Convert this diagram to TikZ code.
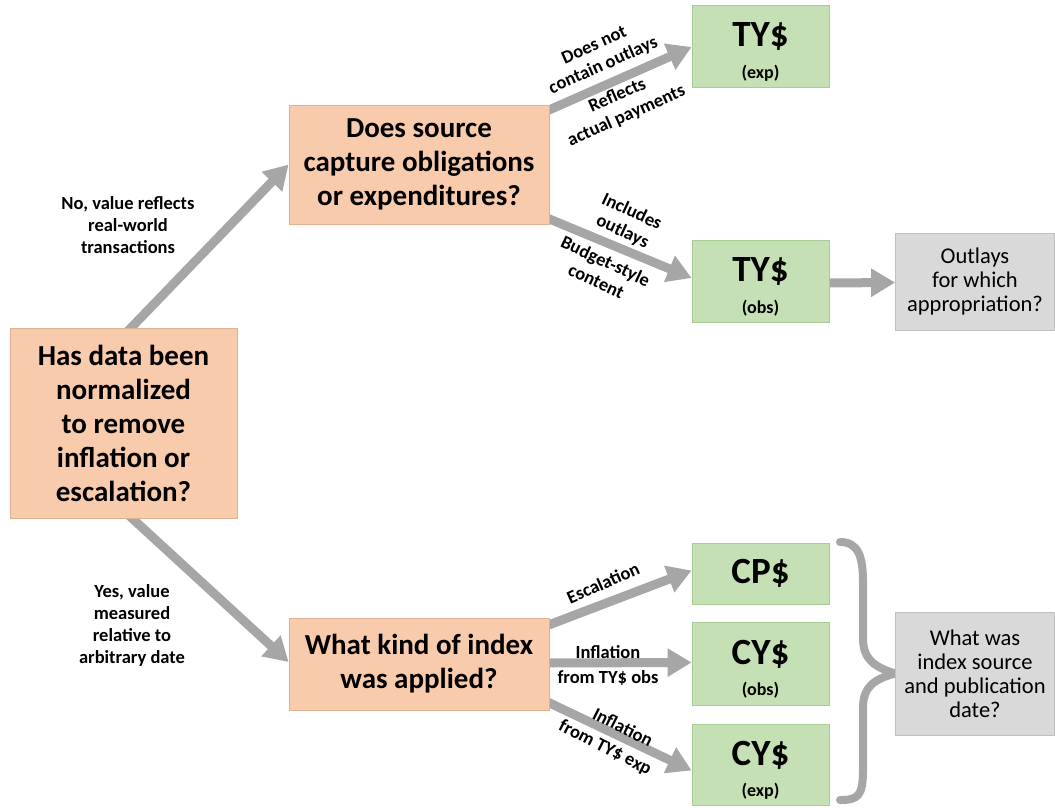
\documentclass[tikz,border=0pt]{standalone}
\usepackage{fontspec}
\setmainfont{Carlito}
\usetikzlibrary{arrows.meta,calc,backgrounds}
\definecolor{peach}{HTML}{F8CBAD}
\definecolor{peachline}{HTML}{E3B08F}
\definecolor{leaf}{HTML}{C5E0B4}
\definecolor{leafline}{HTML}{A8CC95}
\definecolor{ash}{HTML}{D9D9D9}
\definecolor{ashline}{HTML}{C0C0C0}
\definecolor{flow}{HTML}{A6A6A6}
% big currency label with a small qualifier below it
\newcommand{\dollarkind}[2]{{\fontsize{37}{30}\selectfont\rule{0pt}{36pt}#1}\\[13pt]{\fontsize{18}{16}\selectfont #2}}
\begin{document}
\begin{tikzpicture}[x=1pt,y=-1pt,
  question/.style={draw=peachline, fill=peach, line width=0.8pt, align=center,
    inner sep=0pt, font=\bfseries\fontsize{29}{34}\selectfont},
  result/.style={draw=leafline, fill=leaf, line width=0.8pt, align=center,
    inner sep=0pt, minimum width=137pt, font=\bfseries},
  note/.style={draw=ashline, fill=ash, line width=0.8pt, align=center,
    inner sep=0pt, minimum width=159pt, font=\fontsize{22.5}{24}\selectfont},
  flowarrow/.style={draw=flow, line width=9pt, -{Triangle[length=24pt,width=27pt]}},
  edgelabel/.style={font=\bfseries\fontsize{18.5}{22}\selectfont, align=center, inner sep=0pt},
]
\useasboundingbox (0,0) rectangle (1055,807);

% decision boxes
\node[question, minimum width=227pt, minimum height=190pt] (main) at (123.5,423)
  {Has data been\\normalized\\to remove\\inflation or\\escalation?};
\node[question, minimum width=260pt, minimum height=119pt] (does) at (419,164.5)
  {Does source\\capture obligations\\or expenditures?};
\node[question, minimum width=260pt, minimum height=92pt] (what) at (419,664)
  {What kind of index\\was applied?};

% dollar types
\node[result, minimum height=82pt] (tyexp) at (760.5,46) {\dollarkind{TY\$}{(exp)}};
\node[result, minimum height=82pt] (tyobs) at (760.5,281) {\dollarkind{TY\$}{(obs)}};
\node[result, minimum height=61pt, font=\bfseries\fontsize{37}{37}\selectfont] (cp) at (760.5,573.5) {CP\$};
\node[result, minimum height=83pt] (cyobs) at (760.5,663.5) {\dollarkind{CY\$}{(obs)}};
\node[result, minimum height=81pt] (cyexp) at (760.5,764.5) {\dollarkind{CY\$}{(exp)}};

% follow-up questions
\node[note, minimum height=97pt] (outlays) at (975,281.5) {Outlays\\for which\\appropriation?};
\node[note, minimum height=123pt] (indexq) at (975,673.5) {What was\\index source\\and publication\\date?};

% connectors
\begin{scope}[on background layer]
  \draw[flowarrow] ($(main.north)+(0,8)$) -- (does.west);
  \draw[flowarrow] ($(main.south)+(0,-8)$) -- ($(what.west)+(0,-2)$);
  \draw[flowarrow] ($(does.east)+(-6,-52)$) -- ($(tyexp.west)+(0,1)$);
  \draw[flowarrow] ($(does.east)+(-6,52)$) -- ($(tyobs.west)+(0,-3)$);
  \draw[flowarrow] ($(tyobs.east)+(-4,2)$) -- ($(outlays.west)+(0,1)$);
  \draw[flowarrow] ($(what.east)+(-6,-37)$) -- ($(cp.west)+(0,-3)$);
  \draw[flowarrow] ($(what.east)+(-6,-1)$) -- ($(cyobs.west)+(0,-1)$);
  \draw[flowarrow] ($(what.east)+(-6,36)$) -- ($(cyexp.west)+(0,6)$);
  % brace gathering the three constant-dollar results
  \draw[flow, line width=8pt, line cap=round]
    (840,542) .. controls (858,542) and (863,556) .. (863,582) -- (863,638)
    .. controls (863,660) and (875,667) .. (indexq.west)
    .. controls (875,679) and (863,686) .. (863,708) -- (863,770)
    .. controls (863,796) and (858,800) .. (840,800);
\end{scope}

% connector labels
\node[edgelabel] (l1) at (128,225) {No, value reflects\\real-world\\transactions};
\node[edgelabel] (l2) at (132,625) {Yes, value\\measured\\relative to\\arbitrary date};
\node[edgelabel, rotate=24] (l3) at (599,56) {Does not\\contain outlays};
\node[edgelabel, rotate=24] (l4) at (622,106) {Reflects\\actual payments};
\node[edgelabel, rotate=-25] (l5) at (627,222) {Includes\\outlays};
\node[edgelabel, rotate=-25] (l6) at (601,271) {Budget-style\\content};
\node[edgelabel, rotate=24] (l7) at (603,583) {Escalation};
\node[edgelabel] (l8) at (608,652) {Inflation};
\node[edgelabel] (l9) at (608,678) {from TY\$ obs};
\node[edgelabel, rotate=-27] (l10) at (623,727) {Inflation};
\node[edgelabel, rotate=-27] (l11) at (605,748) {from TY\$ exp};
\end{tikzpicture}
\end{document}
